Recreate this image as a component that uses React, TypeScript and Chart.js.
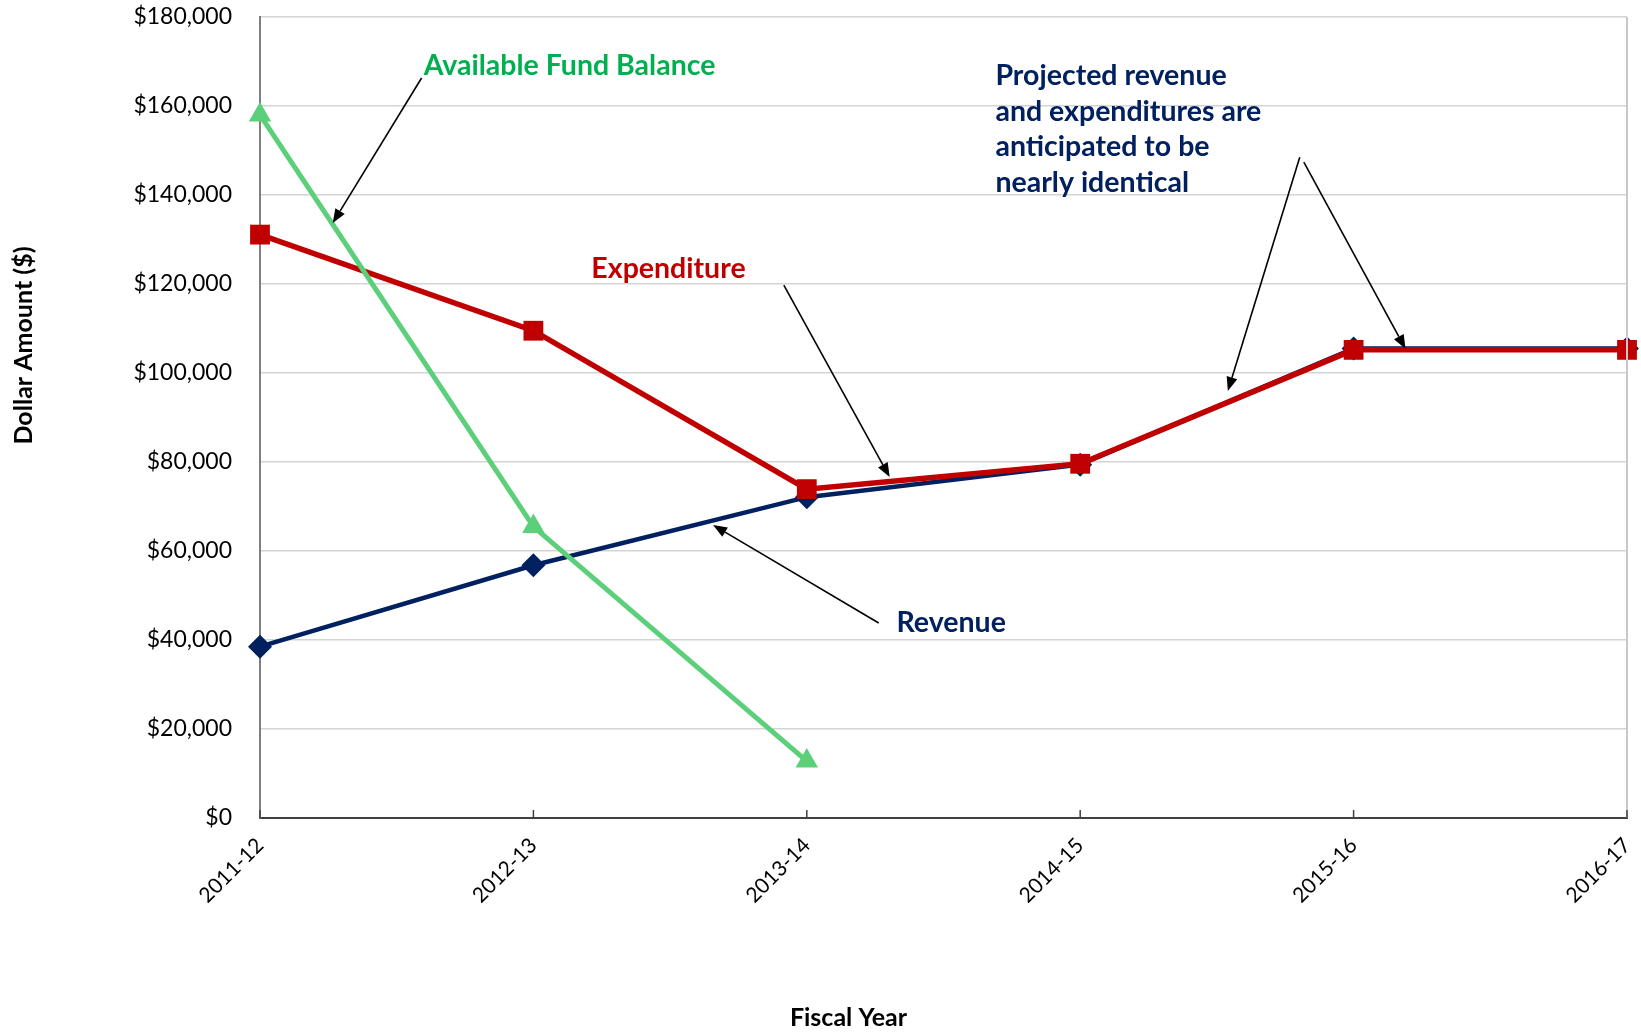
import React, { useEffect, useRef } from "react";
import { Chart, registerables } from "chart.js";

Chart.register(...registerables);

// ---------- data ----------
const categories = ["2011-12", "2012-13", "2013-14", "2014-15", "2015-16", "2016-17"];
const fundBalance = [158000, 65500, 12800, null, null, null];
const expenditure = [131100, 109500, 73900, 79600, 105200, 105200];
const revenue = [38500, 56800, 72100, 79400, 105500, 105500];
const seriesNames = ["Available Fund Balance", "Expenditure", "Revenue"];
const yMin = 0;
const yMax = 180000;
const yStep = 20000;
const yTitle = "Dollar Amount ($)";
const xTitle = "Fiscal Year";

// ---------- annotations (placed in data space: [category index, value]) ----------
const noteTexts = [
  { lines: ["Available Fund Balance"], color: "#00B050", at: [0.599, 166950] },
  { lines: ["Expenditure"], color: "#C00000", at: [1.212, 121340] },
  { lines: ["Revenue"], color: "#002060", at: [2.328, 41800] },
  {
    lines: ["Projected revenue", "and expenditures are", "anticipated to be", "nearly identical"],
    color: "#002060",
    at: [2.69, 164700],
  },
];
const noteArrows = [
  [[0.591, 166300], [0.266, 133700]],
  [[1.916, 119770], [2.303, 76620]],
  [[2.263, 43820], [1.657, 65840]],
  [[3.803, 148500], [3.54, 95950]],
  [[3.818, 147400], [4.19, 105400]],
];

const FONT = "Lato, 'Open Sans', 'DejaVu Sans', sans-serif";

const overlayPlugin = {
  id: "overlay",
  afterDatasetsDraw(chart: any) {
    const { ctx } = chart;
    const xs = chart.scales.x;
    const ys = chart.scales.y;
    const px = (p: number[]) => [xs.getPixelForValue(p[0]), ys.getPixelForValue(p[1])];
    ctx.save();
    // arrows
    noteArrows.forEach((a) => {
      const [x1, y1] = px(a[0]);
      const [x2, y2] = px(a[1]);
      const ang = Math.atan2(y2 - y1, x2 - x1);
      const hl = 14;
      const hw = 5.5;
      const bx = x2 - hl * Math.cos(ang);
      const by = y2 - hl * Math.sin(ang);
      ctx.strokeStyle = "#000";
      ctx.fillStyle = "#000";
      ctx.lineWidth = 1.6;
      ctx.beginPath();
      ctx.moveTo(x1, y1);
      ctx.lineTo(bx, by);
      ctx.stroke();
      ctx.beginPath();
      ctx.moveTo(x2, y2);
      ctx.lineTo(bx + hw * Math.sin(ang), by - hw * Math.cos(ang));
      ctx.lineTo(bx - hw * Math.sin(ang), by + hw * Math.cos(ang));
      ctx.closePath();
      ctx.fill();
    });
    // texts
    ctx.font = `bold 28.5px ${FONT}`;
    ctx.textAlign = "left";
    ctx.textBaseline = "alphabetic";
    noteTexts.forEach((t) => {
      const [x, y] = px(t.at);
      ctx.fillStyle = t.color;
      t.lines.forEach((ln, i) => ctx.fillText(ln, x, y + i * 35.5));
    });
    ctx.restore();
  },
  afterDraw(chart: any) {
    const { ctx, chartArea } = chart;
    const xs = chart.scales.x;
    ctx.save();
    // right border of plot area
    ctx.strokeStyle = "#c8c8c8";
    ctx.lineWidth = 2;
    ctx.beginPath();
    ctx.moveTo(chartArea.right, chartArea.top);
    ctx.lineTo(chartArea.right, chartArea.bottom);
    ctx.stroke();
    // inward tick marks on x axis
    ctx.strokeStyle = "#404040";
    ctx.lineWidth = 1.5;
    xs.ticks.forEach((_t: any, i: number) => {
      const x = xs.getPixelForTick(i);
      ctx.beginPath();
      ctx.moveTo(x, chartArea.bottom);
      ctx.lineTo(x, chartArea.bottom - 8);
      ctx.stroke();
    });
    // axis titles
    ctx.fillStyle = "#000";
    ctx.font = `bold 25px ${FONT}`;
    ctx.textAlign = "center";
    ctx.textBaseline = "middle";
    ctx.save();
    ctx.translate(24, (chartArea.top + chartArea.bottom) / 2 - 72);
    ctx.rotate(-Math.PI / 2);
    ctx.fillText(yTitle, 0, 0);
    ctx.restore();
    ctx.fillText(xTitle, (chartArea.left + chartArea.right) / 2 - 95, 1018);
    ctx.restore();
  },
};

export default function App() {
  const ref = useRef<HTMLCanvasElement | null>(null);
  useEffect(() => {
    document.body.style.margin = "0";
    const canvas = ref.current;
    if (!canvas) return;
    const chart = new Chart(canvas, {
      type: "line",
      data: {
        labels: categories,
        datasets: [
          {
            label: seriesNames[0],
            data: fundBalance,
            borderColor: "#5CCF7A",
            backgroundColor: "#5CCF7A",
            borderWidth: 5,
            pointStyle: "triangle",
            pointRadius: 13,
            pointBorderWidth: 0,
            clip: false,
          },
          {
            label: seriesNames[1],
            data: expenditure,
            borderColor: "#C00000",
            backgroundColor: "#C00000",
            borderWidth: 5.5,
            pointStyle: "rect",
            pointRadius: 14,
            pointBorderWidth: 0,
            clip: false,
          },
          {
            label: seriesNames[2],
            data: revenue,
            borderColor: "#002060",
            backgroundColor: "#002060",
            borderWidth: 4.5,
            pointStyle: "rectRot",
            pointRadius: 12,
            pointBorderWidth: 0,
            clip: false,
          },
        ],
      },
      options: {
        animation: false,
        responsive: true,
        maintainAspectRatio: false,
        layout: { padding: { top: 17, right: 8, left: 0, bottom: 0 } },
        plugins: { legend: { display: false }, tooltip: { enabled: false } },
        scales: {
          x: {
            type: "category",
            offset: false,
            grid: { display: false, drawTicks: false },
            border: { display: true, color: "#404040", width: 2 },
            ticks: {
              color: "#000",
              font: { family: FONT, size: 21 },
              minRotation: 45,
              maxRotation: 45,
              padding: 15,
            },
            afterFit(scale: any) {
              scale.height = 215;
              scale.paddingLeft = 0;
              scale.paddingRight = 0;
              scale.paddingTop = 0;
              scale.paddingBottom = 0;
            },
          },
          y: {
            min: yMin,
            max: yMax,
            grid: { color: "#d4d4d4", lineWidth: 1.5, drawTicks: false },
            border: { display: true, color: "#7f7f7f", width: 2 },
            ticks: {
              stepSize: yStep,
              color: "#000",
              font: { family: FONT, size: 23 },
              padding: 28,
              callback: (v: any) => "$" + Number(v).toLocaleString("en-US"),
            },
            afterFit(scale: any) {
              scale.width = 260;
              scale.paddingTop = 0;
              scale.paddingBottom = 0;
            },
          },
        },
      },
      plugins: [overlayPlugin],
    });
    return () => chart.destroy();
  }, []);
  return (
    <div style={{ width: 1641, height: 1033, position: "relative", background: "#fff" }}>
      <canvas ref={ref} />
    </div>
  );
}
